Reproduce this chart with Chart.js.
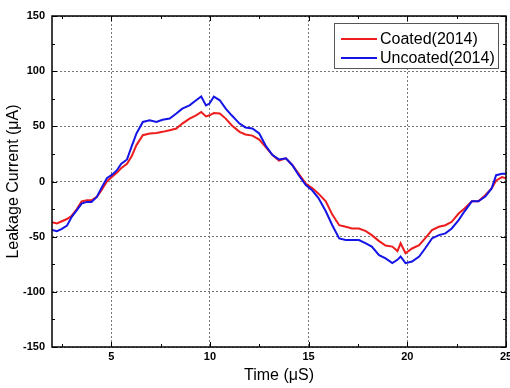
<!DOCTYPE html>
<html>
<head>
<meta charset="utf-8">
<script src="https://cdn.jsdelivr.net/npm/chart.js@4.4.1/dist/chart.umd.min.js"></script>
<style>
html, body { margin: 0; padding: 0; background: #fff; }
#wrap { width: 510px; height: 388px; }
</style>
</head>
<body>
<div id="wrap"><canvas id="leakageChart" width="510" height="388"></canvas></div>
<script>
// Dados (tempo em µS, corrente em µA)
const timeUs = [2.0, 2.25, 2.5, 2.76, 3.0, 3.26, 3.5, 3.77, 4.0, 4.27, 4.5, 4.78, 5.03, 5.28, 5.5, 5.8,
  6.04, 6.28, 6.6, 6.95, 7.29, 7.6, 7.96, 8.3, 8.6, 8.97, 9.3, 9.56, 9.8, 9.98, 10.2, 10.5, 10.8,
  11.1, 11.5, 11.8, 12.15, 12.5, 12.84, 13.17, 13.5, 13.85, 14.17, 14.5, 14.86, 15.18, 15.5, 15.87,
  16.2, 16.55, 16.88, 17.2, 17.55, 17.9, 18.2, 18.57, 18.9, 19.24, 19.5, 19.66, 19.91, 20.24, 20.6,
  20.9, 21.25, 21.6, 21.93, 22.25, 22.6, 22.9, 23.27, 23.6, 23.95, 24.27, 24.5, 24.8, 25.0];

const coated = [-37, -38, -36, -34, -31, -25, -18, -17, -17, -14, -8, 0, 4, 8, 12, 16,
  23, 33, 42, 43.5, 44, 45, 46.5, 48, 52.5, 57, 60, 63, 59, 60, 62, 61.6, 57,
  51, 45, 42.6, 41.6, 38, 31, 24, 19, 21, 15, 7, -2, -6, -11, -18,
  -30, -39.6, -41, -42.6, -42.6, -45, -48.6, -54, -58, -59, -63, -56, -65, -60.7, -57.7,
  -51.6, -44, -41, -39.6, -36.5, -29, -24.5, -17.8, -17.8, -12.4, -6.3, 1, 4, 3];

const uncoated = [-44, -45, -43, -40, -32, -26, -20, -18.5, -18.5, -14, -6, 3, 6, 10, 16, 20,
  32, 43.5, 54, 55.5, 54, 56, 57, 61.6, 66, 69, 73.6, 77, 69, 70.6, 77, 73.6, 66,
  60, 52.5, 49, 48, 43.5, 32, 24, 20, 21, 15, 5.7, -3.3, -8, -15, -27,
  -39.6, -51.6, -53, -53, -53, -56, -59, -66.7, -69.7, -74, -71, -68, -74, -72.5, -68,
  -60.7, -51.6, -48.6, -47, -42.6, -35, -27, -18, -18, -13.6, -6.3, 5.7, 7, 7];

const xTicks = [5, 10, 15, 20, 25];
const xMinorTicks = [2.5, 7.5, 12.5, 17.5, 22.5];
const yTicks = [-150, -100, -50, 0, 50, 100, 150];
const yMinorTicks = [-125, -75, -25, 25, 75, 125];

const tickFont = { family: 'Liberation Sans, Arial, sans-serif', size: 11, weight: 'bold' };
const titleFont = { family: 'Liberation Sans, Arial, sans-serif', size: 16 };

// Moldura, marcas internas e legenda
const framePlugin = {
  id: 'frame',
  afterDraw(chart) {
    const { ctx, chartArea: a, scales: { x, y } } = chart;
    ctx.save();
    ctx.strokeStyle = '#000';
    ctx.lineWidth = 1;
    ctx.beginPath();
    const tickX = (v, len) => {
      const px = Math.round(x.getPixelForValue(v)) + 0.5;
      ctx.moveTo(px, a.bottom); ctx.lineTo(px, a.bottom - len);
      ctx.moveTo(px, a.top); ctx.lineTo(px, a.top + len);
    };
    const tickY = (v, len) => {
      const py = Math.round(y.getPixelForValue(v)) + 0.5;
      ctx.moveTo(a.left, py); ctx.lineTo(a.left + len, py);
      ctx.moveTo(a.right, py); ctx.lineTo(a.right - len, py);
    };
    xTicks.forEach(v => tickX(v, 5));
    xMinorTicks.forEach(v => tickX(v, 3));
    yTicks.forEach(v => tickY(v, 5));
    yMinorTicks.forEach(v => tickY(v, 3));
    ctx.stroke();

    ctx.lineWidth = 1.5;
    ctx.strokeRect(a.left, a.top, a.right - a.left, a.bottom - a.top);

    // Legenda
    const bx = 334, by = 23, bw = 164, bh = 45;
    ctx.fillStyle = '#fff';
    ctx.fillRect(bx, by, bw, bh);
    ctx.lineWidth = 1;
    ctx.strokeStyle = '#555';
    ctx.strokeRect(bx + 0.5, by + 0.5, bw, bh);
    ctx.font = '16px Liberation Sans, Arial, sans-serif';
    ctx.textBaseline = 'middle';
    chart.data.datasets.forEach((ds, i) => {
      const ly = by + 16 + i * 19;
      ctx.strokeStyle = ds.borderColor;
      ctx.lineWidth = 2;
      ctx.beginPath();
      ctx.moveTo(341, ly); ctx.lineTo(377, ly);
      ctx.stroke();
      ctx.fillStyle = '#000';
      ctx.fillText(ds.label, 380, ly + 1);
    });
    ctx.restore();
  }
};

const ctxLeak = document.getElementById('leakageChart').getContext('2d');
window.leakageChart = new Chart(ctxLeak, {
  type: 'line',
  data: {
    datasets: [{
      label: 'Coated(2014)',
      data: timeUs.map((t, i) => ({ x: t, y: coated[i] })),
      borderColor: '#ee1c1c',
      borderWidth: 2,
      pointRadius: 0,
      tension: 0,
      order: 1
    }, {
      label: 'Uncoated(2014)',
      data: timeUs.map((t, i) => ({ x: t, y: uncoated[i] })),
      borderColor: '#1414e6',
      borderWidth: 2,
      pointRadius: 0,
      tension: 0,
      order: 0
    }]
  },
  options: {
    responsive: false,
    animation: false,
    devicePixelRatio: 1,
    layout: { padding: { top: 16, right: 4, left: 0, bottom: 0 } },
    plugins: {
      legend: { display: false },
      tooltip: { enabled: false }
    },
    scales: {
      x: {
        type: 'linear',
        min: 2,
        max: 25,
        afterBuildTicks: axis => { axis.ticks = xTicks.map(v => ({ value: v })); },
        afterFit: axis => { axis.height = 41; axis.paddingLeft = 0; axis.paddingRight = 0; },
        grid: { color: '#777', drawTicks: false },
        border: { display: false, dash: [2, 2] },
        ticks: { font: tickFont, color: '#000', padding: 3, maxRotation: 0 },
        title: { display: true, text: 'Time (μS)', font: titleFont, color: '#000', padding: { top: 0, bottom: 3 } }
      },
      y: {
        min: -150,
        max: 150,
        afterBuildTicks: axis => { axis.ticks = yTicks.map(v => ({ value: v })); },
        afterFit: axis => { axis.width = 52; axis.paddingTop = 0; axis.paddingBottom = 0; },
        grid: { color: '#777', drawTicks: false },
        border: { display: false, dash: [2, 2] },
        ticks: { font: tickFont, color: '#000', padding: 7 },
        title: { display: true, text: 'Leakage Current (μA)', font: titleFont, color: '#000', padding: { top: 4, bottom: 0 } }
      }
    }
  },
  plugins: [framePlugin]
});
</script>
</body>
</html>
